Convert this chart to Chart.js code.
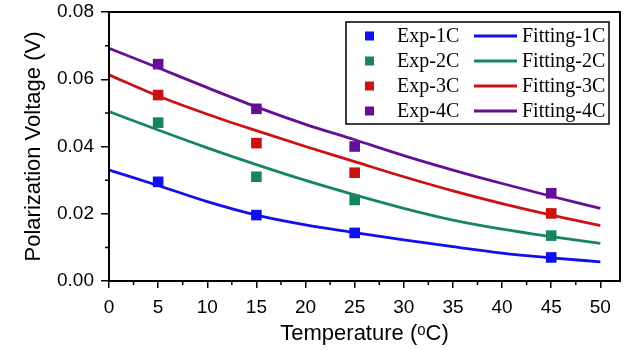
<!DOCTYPE html>
<html>
<head>
<meta charset="utf-8">
<script src="https://cdn.jsdelivr.net/npm/chart.js@4/dist/chart.umd.min.js"></script>
<style>
html,body{margin:0;padding:0;background:#fff;}
#wrap{width:640px;height:350px;position:relative;}
</style>
</head>
<body>
<div id="wrap"><canvas id="c" width="640" height="350"></canvas></div>
<script>
// ---- data ----
const expTemps = [5, 15, 25, 45];
const exp1C = [0.0295, 0.0196, 0.0143, 0.0070];
const exp2C = [0.0471, 0.0310, 0.0241, 0.0135];
const exp3C = [0.0553, 0.0410, 0.0322, 0.0201];
const exp4C = [0.0645, 0.0512, 0.0400, 0.0261];

const fitTemps = [0, 5, 10, 15, 20, 25, 30, 35, 40, 45, 50];
const fit1C = [0.0330, 0.0284, 0.0236, 0.0196, 0.0167, 0.0144, 0.0122, 0.0102, 0.0083, 0.0069, 0.0057];
const fit2C = [0.0504, 0.0449, 0.0396, 0.0346, 0.0299, 0.0256, 0.0216, 0.0181, 0.0154, 0.0132, 0.0112];
const fit3C = [0.0613, 0.0550, 0.0496, 0.0447, 0.0400, 0.0355, 0.0310, 0.0268, 0.0230, 0.0196, 0.0165];
const fit4C = [0.0692, 0.0634, 0.0575, 0.0518, 0.0466, 0.0420, 0.0373, 0.0330, 0.0290, 0.0252, 0.0216];

const xTickLabels = [0, 5, 10, 15, 20, 25, 30, 35, 40, 45, 50];
const yTickLabels = [0.00, 0.02, 0.04, 0.06, 0.08];
const xMinorTicks = [2.5, 7.5, 12.5, 17.5, 22.5, 27.5, 32.5, 37.5, 42.5, 47.5];
const yMinorTicks = [0.01, 0.03, 0.05, 0.07];

const expLabels = ['Exp-1C', 'Exp-2C', 'Exp-3C', 'Exp-4C'];
const fitLabels = ['Fitting-1C', 'Fitting-2C', 'Fitting-3C', 'Fitting-4C'];
const colors = ['#1010ee', '#178562', '#cc1111', '#650f95'];

const toPts = (xs, ys) => xs.map((x, i) => ({x: x, y: ys[i]}));
const expSeries = [exp1C, exp2C, exp3C, exp4C];
const fitSeries = [fit1C, fit2C, fit3C, fit4C];

const datasets = [];
fitSeries.forEach((s, i) => datasets.push({
  label: fitLabels[i], data: toPts(fitTemps, s), showLine: true,
  borderColor: colors[i], backgroundColor: colors[i], borderWidth: 2.8,
  pointRadius: 0, cubicInterpolationMode: 'monotone', order: 2
}));
expSeries.forEach((s, i) => datasets.push({
  label: expLabels[i], data: toPts(expTemps, s), showLine: false,
  pointStyle: 'rect', pointRadius: 7.5, pointHoverRadius: 7.5,
  backgroundColor: colors[i], borderColor: colors[i], borderWidth: 0, order: 1
}));

const framePlugin = {
  id: 'frame',
  afterDraw(chart) {
    const ctx = chart.ctx, a = chart.chartArea;
    const xs = chart.scales.x, ys = chart.scales.y;
    ctx.save();
    ctx.strokeStyle = '#000';
    // minor ticks
    ctx.lineWidth = 1.5;
    ctx.beginPath();
    xMinorTicks.forEach(v => { const px = xs.getPixelForValue(v); ctx.moveTo(px, a.bottom); ctx.lineTo(px, a.bottom + 4); });
    yMinorTicks.forEach(v => { const py = ys.getPixelForValue(v); ctx.moveTo(a.left, py); ctx.lineTo(a.left - 4, py); });
    ctx.stroke();
    // frame
    ctx.lineWidth = 2;
    ctx.strokeRect(a.left, a.top, a.right - a.left, a.bottom - a.top);

    // legend
    const L = 346, T = 22, W = 263, H = 102;
    ctx.fillStyle = '#fff';
    ctx.fillRect(L, T, W, H);
    ctx.lineWidth = 1.5;
    ctx.strokeRect(L, T, W, H);
    ctx.font = '20px "Liberation Serif", "Times New Roman", serif';
    ctx.textBaseline = 'middle';
    ctx.textAlign = 'left';
    for (let i = 0; i < 4; i++) {
      const y = 36 + i * 25;
      ctx.fillStyle = colors[i];
      ctx.fillRect(365, y - 4.5, 9, 9);
      ctx.fillStyle = '#000';
      ctx.fillText(expLabels[i], 397, y + 1);
      ctx.strokeStyle = colors[i];
      ctx.lineWidth = 2.8;
      ctx.beginPath(); ctx.moveTo(474, y); ctx.lineTo(517, y); ctx.stroke();
      ctx.fillStyle = '#000';
      ctx.fillText(fitLabels[i], 522, y + 1);
    }
    ctx.restore();
  }
};

const tickFont = {family: '"Liberation Sans", Arial, sans-serif', size: 19};
const titleFont = {family: '"Liberation Sans", Arial, sans-serif', size: 22};

new Chart(document.getElementById('c'), {
  type: 'scatter',
  data: {datasets: datasets},
  options: {
    responsive: false,
    animation: false,
    layout: {padding: {top: 12, right: 20, left: 0, bottom: 0}},
    plugins: {legend: {display: false}, tooltip: {enabled: false}},
    scales: {
      x: {
        type: 'linear', min: 0, max: 52,
        afterBuildTicks: s => { s.ticks = xTickLabels.map(v => ({value: v})); },
        afterFit: s => { s.height = 69; s.paddingLeft = 0; s.paddingRight = 0; },
        grid: {display: true, drawOnChartArea: false, drawTicks: true, tickLength: 7, color: '#000', lineWidth: 1.5},
        border: {display: true, color: '#000', width: 2},
        ticks: {color: '#000', font: tickFont, padding: 8, maxRotation: 0, autoSkip: false, callback: v => String(v)},
        title: {display: true, text: 'Temperature (ᵒC)', color: '#000', font: titleFont, padding: {top: 0, bottom: 3}}
      },
      y: {
        type: 'linear', min: 0, max: 0.08,
        afterBuildTicks: s => { s.ticks = yTickLabels.map(v => ({value: v})); },
        afterFit: s => { s.width = 109; s.paddingTop = 0; s.paddingBottom = 0; },
        grid: {display: true, drawOnChartArea: false, drawTicks: true, tickLength: 8, color: '#000', lineWidth: 1.5},
        border: {display: true, color: '#000', width: 2},
        ticks: {color: '#000', font: tickFont, padding: 7, autoSkip: false, callback: v => Number(v).toFixed(2)},
        title: {display: true, text: 'Polarization Voltage (V)', color: '#000', font: titleFont, padding: {top: 21, bottom: 0}}
      }
    }
  },
  plugins: [framePlugin]
});
</script>
</body>
</html>
